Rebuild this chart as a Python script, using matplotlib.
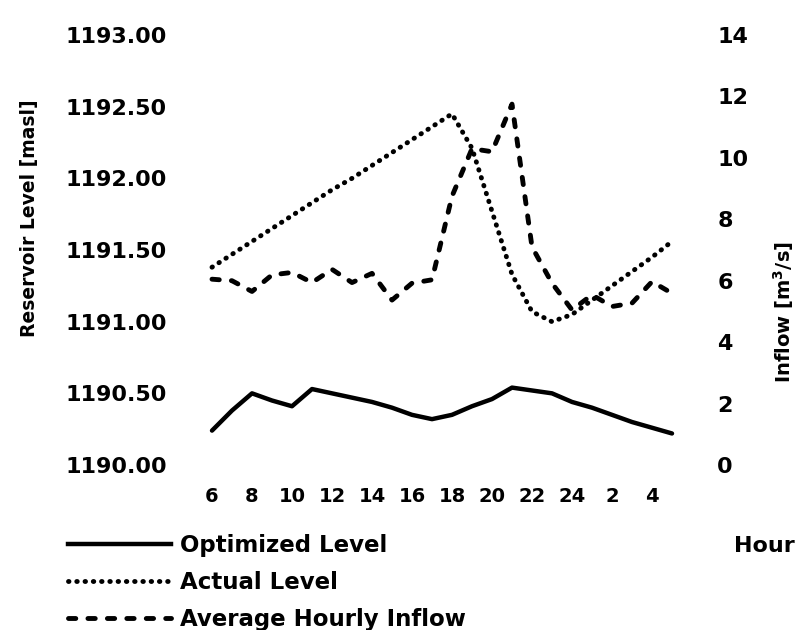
import matplotlib
matplotlib.use("Agg")
import matplotlib.pyplot as plt
from matplotlib.lines import Line2D

# hours of the day, 6 h to 5 h next morning
hours = [6, 7, 8, 9, 10, 11, 12, 13, 14, 15, 16, 17, 18, 19, 20, 21, 22, 23, 24, 1, 2, 3, 4, 5]

optimized_level = [1190.24, 1190.38, 1190.50, 1190.45, 1190.41, 1190.53, 1190.50, 1190.47,
                   1190.44, 1190.40, 1190.35, 1190.32, 1190.35, 1190.41, 1190.46, 1190.54,
                   1190.52, 1190.50, 1190.44, 1190.40, 1190.35, 1190.30, 1190.26, 1190.22]

actual_level = [1191.38, 1191.47, 1191.56, 1191.65, 1191.74, 1191.83, 1191.92, 1192.00,
                1192.09, 1192.18, 1192.27, 1192.36, 1192.45, 1192.21, 1191.77, 1191.33,
                1191.07, 1191.00, 1191.05, 1191.15, 1191.25, 1191.35, 1191.45, 1191.56]

inflow = [6.05, 6.00, 5.65, 6.19, 6.27, 5.94, 6.37, 5.94, 6.24, 5.37, 5.92, 6.03,
          8.75, 10.3, 10.2, 11.75, 7.1, 5.92, 5.05, 5.54, 5.16, 5.27, 5.97, 5.59]

x = list(range(len(hours)))

plt.rcParams['font.family'] = 'DejaVu Sans'
plt.rcParams['font.weight'] = 'bold'

fig = plt.figure(figsize=(8, 6.3), dpi=100)
ax = fig.add_axes([0.25, 0.2619, 0.605, 0.6825])
ax2 = ax.twinx()

dotted = (0, (0.1, 1.6))
dashed = (0, (1.5, 2.5))

ax.plot(x, optimized_level, color='black', lw=3.2, solid_capstyle='round',
        solid_joinstyle='round')
ax.plot(x, actual_level, color='black', lw=3.5, linestyle=dotted, dash_capstyle='round')
ax2.plot(x, inflow, color='black', lw=3.5, linestyle=dashed, dash_capstyle='round')

ax.set_xlim(-0.6, 23.6)
ax.set_ylim(1190, 1193)
ax2.set_ylim(0, 14)

ax.set_yticks([1190, 1190.5, 1191, 1191.5, 1192, 1192.5, 1193])
ax.set_yticklabels(['%.2f' % v for v in ax.get_yticks()], fontsize=16, fontweight='bold')
ax2.set_yticks(range(0, 15, 2))
ax2.set_yticklabels([str(v) for v in range(0, 15, 2)], fontsize=16, fontweight='bold')
ax.set_xticks(x[::2])
ax.set_xticklabels([str(h) for h in hours[::2]], fontsize=14, fontweight='bold')

ax.tick_params(axis='y', length=0, pad=24)
ax2.tick_params(axis='y', length=0, pad=24)
ax.tick_params(axis='x', length=0, pad=16)

for a in (ax, ax2):
    for s in a.spines.values():
        s.set_visible(False)

fig.text(0.0375, 0.654, 'Reservoir Level [masl]', rotation=90, ha='center', va='center',
         fontsize=13.5, fontweight='bold')
fig.text(0.98, 0.505, 'Inflow [m$^\\mathbf{3}$/s]', rotation=90, ha='center', va='center',
         fontsize=14, fontweight='bold')
fig.text(0.955, 0.133, 'Hour', ha='center', va='center', fontsize=16, fontweight='bold')

handles = [Line2D([], [], color='black', lw=3.2),
           Line2D([], [], color='black', lw=3.5, linestyle=dotted, dash_capstyle='round'),
           Line2D([], [], color='black', lw=3.5, linestyle=dashed, dash_capstyle='round')]
fig.legend(handles, ['Optimized Level', 'Actual Level', 'Average Hourly Inflow'],
           loc='upper left', bbox_to_anchor=(0.085, 0.152), frameon=False,
           prop={'size': 16.5, 'weight': 'bold'}, handlelength=4.5, handletextpad=0.4,
           labelspacing=0.6, borderpad=0, borderaxespad=0)

fig.savefig('out.png', dpi=100)
